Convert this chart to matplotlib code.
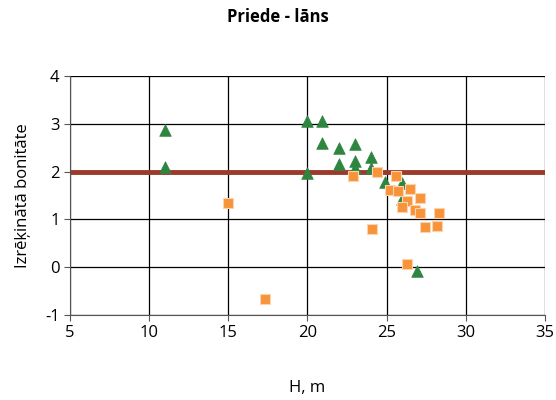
import matplotlib.pyplot as plt

plt.rcParams['font.family'] = ['Open Sans', 'DejaVu Sans']
plt.rcParams['axes.unicode_minus'] = False

tri_x = [11.0, 11.0, 20.0, 20.9, 20.9, 22.0, 23.0, 22.0, 23.0, 24.0, 23.0, 24.0, 20.0,
         24.9, 26.0, 26.0, 26.9]
tri_y = [2.88, 2.09, 3.05, 3.05, 2.6, 2.5, 2.57, 2.16, 2.23, 2.3, 2.08, 2.08, 1.98,
         1.78, 1.76, 1.42, -0.08]

sq_x = [14.95, 17.3, 22.86, 24.4, 25.6, 25.2, 25.7, 26.5, 26.3, 27.1, 26.0, 26.8, 27.1,
        28.3, 27.4, 28.2, 24.1, 26.3]
sq_y = [1.34, -0.67, 1.9, 1.99, 1.9, 1.62, 1.6, 1.64, 1.39, 1.45, 1.25, 1.19, 1.14,
        1.14, 0.84, 0.86, 0.79, 0.07]

line_x = [5, 35]
line_y = [2, 2]

fig = plt.figure(figsize=(5.56, 4.0), dpi=100)
ax = fig.add_axes([0.126, 0.2125, 0.854, 0.5975])

ax.plot(line_x, line_y, color='#9B3A2C', linewidth=3.5, zorder=2)
ax.scatter(tri_x, tri_y, marker='^', s=70, color='#2E8540', edgecolors='#2E8540',
           linewidths=0.5, zorder=3)
ax.scatter(sq_x, sq_y, marker='s', s=60, color='#F7943A', edgecolors='#FBD3AE',
           linewidths=0.8, zorder=4)

ax.set_xlim(5, 35)
ax.set_ylim(-1, 4)
ax.set_xticks(range(5, 36, 5))
ax.set_yticks(range(-1, 5))
ax.grid(True, color='black', linewidth=0.9)
ax.set_axisbelow(True)
for s in ['top', 'right']:
    ax.spines[s].set_visible(False)
for s in ['left', 'bottom']:
    ax.spines[s].set_color('#555555')
ax.tick_params(labelsize=12, length=4, color='#555555')

ax.set_xlabel('H, m', fontsize=12, labelpad=28)
ax.set_ylabel('Izrēķinātā bonitāte', fontsize=12, labelpad=10)
fig.text(0.5, 0.957, 'Priede - lāns', ha='center', va='center', fontsize=12,
         fontweight='bold')

fig.savefig('out.png', dpi=100)
